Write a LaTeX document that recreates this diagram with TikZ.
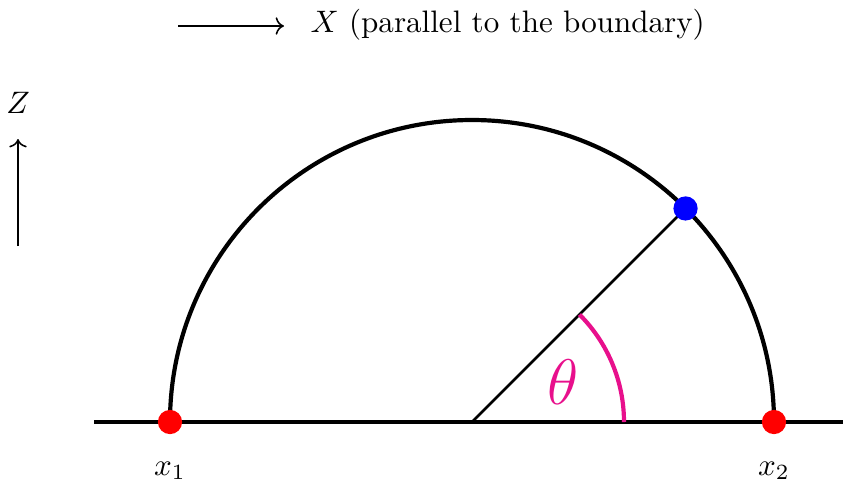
\documentclass[tikz,border=0pt]{standalone}
\usepackage{xcolor}
\usetikzlibrary{arrows.meta,positioning,calc}
\definecolor{ink}{HTML}{000000}
\definecolor{pinkarc}{HTML}{E8108C}
\definecolor{endred}{HTML}{FF0000}
\definecolor{ptblue}{HTML}{0000FF}

\begin{document}
\begin{tikzpicture}[
  x=0.322pt,y=0.322pt,
  dot/.style={circle,inner sep=0pt,minimum size=7.8pt},
  axis/.style={->,line width=.5pt,draw=ink},
  bold/.style={line width=1.35pt,draw=ink},
  lbl/.style={inner sep=0pt,text=ink}
]
\useasboundingbox (0,0) rectangle (843,492);

% 1. Axis hints.
\coordinate (xa) at (178,466);
\coordinate (xb) at (284,466);
\draw[axis] (xa) -- (xb);
\node[lbl,anchor=base west] (xlbl) at (310,460) {$X$ (parallel to the boundary)};
\coordinate (za) at (18,246);
\coordinate (zb) at (18,353);
\draw[axis] (za) -- (zb);
\node[lbl] (zlbl) at (18,389) {$Z$};

% 2. Boundary and geodesic.
\coordinate (o) at (472,70);
\coordinate (left) at (94,70);
\coordinate (right) at (843,70);
\draw[bold] (left) -- (right);
\draw[bold] (170,70) arc[start angle=180,end angle=0,radius=302];
\coordinate (pt) at ($(o)+(45:302)$);
\draw[line width=.82pt,draw=ink] (o) -- (pt);
\draw[pinkarc,line width=1.35pt] ($(o)+(0:152)$) arc[start angle=0,end angle=45,radius=152];
\node[lbl,text=pinkarc,font=\fontsize{21.5}{25}\selectfont] (theta) at (563,110) {$\theta$};

% 3. Marked points.
\node[dot,fill=endred] (x1) at (170,70) {};
\node[dot,fill=endred] (x2) at (774,70) {};
\node[dot,fill=ptblue] (p) at (pt) {};
\node[lbl,anchor=base] (x1lbl) at (170,17) {$x_1$};
\node[lbl,anchor=base] (x2lbl) at (774,17) {$x_2$};

\end{tikzpicture}
\end{document}
